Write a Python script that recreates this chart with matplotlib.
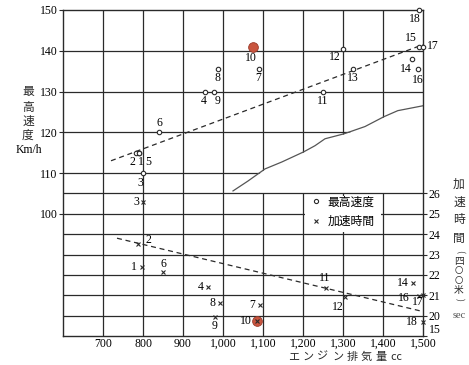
import numpy as np
import matplotlib
matplotlib.use('Agg')
import matplotlib.pyplot as plt
from matplotlib.lines import Line2D
from matplotlib.patches import Rectangle

SERIF = ['Liberation Serif', 'DejaVu Serif']
JP = ['Noto Sans CJK JP', 'DejaVu Sans']
INK = '#2a2a2a'
RED = '#c9553f'

# top speed (km/h) per car no.
speed_no = ['1', '2', '3', '4', '5', '6', '7', '8', '9', '10', '11', '12', '13', '14', '15', '16', '17', '18']
speed_cc = [790, 782, 800, 955, 790, 840, 1090, 987, 977, 1075, 1250, 1300, 1325, 1472, 1490, 1487, 1500, 1490]
speed_kmh = [115, 115, 110, 130, 115, 120, 135.5, 135.5, 130, 141, 130, 140.5, 135.5, 138, 141, 135.5, 141, 150]

# acceleration time over 400 m (sec)
accel_no = ['1', '2', '3', '4', '6', '7', '8', '9', '10', '11', '12', '14', '16', '17', '18']
accel_cc = [797, 787, 800, 962, 850, 1092, 992, 980, 1085, 1257, 1305, 1475, 1490, 1500, 1500]
accel_sec = [22.4, 23.5, 25.6, 21.4, 22.15, 20.5, 20.6, 19.7, 18.7, 21.35, 20.9, 21.6, 20.95, 21.0, 18.4]

# dashed trend lines
speed_fit_cc = [720, 1500]
speed_fit_kmh = [113, 141.5]
accel_fit_cc = [735, 1500]
accel_fit_sec = [23.8, 20.2]

# torn edge of the upper grid
curve_cc = [1025, 1062, 1105, 1147, 1202, 1230, 1255, 1302, 1355, 1402, 1437, 1500]
curve_kmh = [105.6, 108, 111, 112.7, 115.2, 116.7, 118.4, 119.6, 121.4, 123.8, 125.3, 126.5]

x_ticks = [700, 800, 900, 1000, 1100, 1200, 1300, 1400, 1500]
x_labels = ['700', '800', '900', '1,000', '1,100', '1,200', '1,300', '1,400', '1,500']
speed_ticks = [100, 110, 120, 130, 140, 150]
sec_ticks = [15, 20, 21, 22, 23, 24, 25, 26]

# label offsets in pixels (layout only)
speed_off = {'1': (2, -9), '2': (-3, -9), '3': (-3, -10), '4': (-1, -9), '5': (9, -9),
             '6': (0, 9), '7': (-1, -9), '8': (0, -9), '9': (4, -9), '10': (-2, -11),
             '11': (0, -10), '12': (-8, -8), '13': (0, -9), '14': (-6, -10), '15': (-8, 9),
             '16': (0, -11), '17': (10, 1), '18': (-4, -9)}
accel_off = {'1': (-8, 0), '2': (11, 4), '3': (-7, 0), '4': (-7, 0), '6': (0, 8),
             '7': (-8, 0), '8': (-7, 0), '9': (0, -9), '10': (-11, 0), '11': (-1, 10),
             '12': (-7, -10), '14': (-10, 0), '16': (-15, -2), '17': (-5, -7), '18': (-11, 0)}


def fwd(s):
    s = np.asarray(s, dtype=float)
    return np.where(s >= 20, s, 20 - (20 - s) / 5.0)


def inv(t):
    t = np.asarray(t, dtype=float)
    return np.where(t >= 20, t, 20 - (20 - t) * 5.0)


fig = plt.figure(figsize=(4.69, 3.65), dpi=100)
ax = fig.add_axes([63 / 469, 29 / 365, 360 / 469, 326 / 365])
ax.set_xlim(600, 1500)
ax.set_ylim(70, 150)

# grid
for x in x_ticks[:-1]:
    ax.axvline(x, color=INK, lw=0.9, zorder=1)
for y in [75, 80, 85, 90, 95, 100, 110, 120, 130, 140]:
    ax.axhline(y, color=INK, lw=0.9, zorder=1)
ax.fill_between(curve_cc, 105, curve_kmh, color='white', lw=0, zorder=1.5)
ax.axhline(105, color=INK, lw=0.9, zorder=1.6)
ax.plot(curve_cc, curve_kmh, color='#555555', lw=0.9, zorder=1.7)
ax.add_patch(Rectangle((1204, 95.6), 192, 8.8, fc='white', ec='none', zorder=1.8))

for s in ax.spines.values():
    s.set_color(INK)
    s.set_linewidth(1.0)

ax.set_xticks(x_ticks)
ax.set_xticklabels(x_labels, family=SERIF, fontsize=8.5)
ax.tick_params(axis='x', length=0, pad=1.5)
ax.set_yticks(speed_ticks)
ax.set_yticklabels([str(v) for v in speed_ticks], family=SERIF, fontsize=8.5)
ax.tick_params(axis='y', direction='out', length=3, pad=1, color=INK)

# top speed
ax.plot(speed_fit_cc, speed_fit_kmh, color=INK, lw=0.9, dashes=(4, 3), zorder=3)
for no, x, y in zip(speed_no, speed_cc, speed_kmh):
    if no == '10':
        ax.plot(x, y, 'o', ms=7, color=RED, mec='#9a3a2a', mew=0.6, zorder=4)
    else:
        ax.plot(x, y, 'o', ms=3.2, mfc='white', mec=INK, mew=0.8, zorder=4, clip_on=False)
    ax.annotate(no, (x, y), xytext=speed_off[no], textcoords='offset pixels',
                ha='center', va='center', family=SERIF, fontsize=8.5, zorder=5,
                annotation_clip=False)

# acceleration time on the right axis
ax2 = ax.twinx()
ax2.set_yscale('function', functions=(fwd, inv))
ax2.set_ylim(15, 35)
for s in ax2.spines.values():
    s.set_visible(False)
ax2.set_yticks(sec_ticks)
ax2.set_yticklabels([str(v) for v in sec_ticks], family=SERIF, fontsize=8.5)
ax2.tick_params(axis='y', direction='out', length=3, pad=1, color=INK)
ax2.get_yticklabels()[0].set_va('bottom')

ax2.plot(accel_fit_cc, accel_fit_sec, color=INK, lw=0.9, dashes=(4, 3), zorder=3)
for no, x, y in zip(accel_no, accel_cc, accel_sec):
    if no == '10':
        ax2.plot(x, y, 'o', ms=7, color=RED, mec='#9a3a2a', mew=0.6, zorder=4)
    ax2.plot(x, y, 'x', ms=3, color=INK, mew=0.8, zorder=4, clip_on=False)
    ax2.annotate(no, (x, y), xytext=accel_off[no], textcoords='offset pixels',
                 ha='center', va='center', family=SERIF, fontsize=8.5, zorder=5,
                 annotation_clip=False)

# legend in its grid cell
handles = [Line2D([], [], ls='none', marker='o', ms=3, mfc='white', mec=INK, mew=0.8),
           Line2D([], [], ls='none', marker='x', ms=3, color=INK, mew=0.8)]
leg = ax.legend(handles, ['最高速度', '加速時間'], loc='center', bbox_to_anchor=(1300, 100.5),
                bbox_transform=ax.transData, frameon=False, handlelength=0.8,
                handletextpad=0.6, labelspacing=0.55, prop={'family': JP, 'size': 8.5})
leg.set_zorder(6)

# axis titles, set vertically one character at a time
W, H = 469, 365
for ch, py in zip(['最', '高', '速', '度'], [92, 107, 121, 135]):
    fig.text(28 / W, 1 - py / H, ch, family=JP, fontsize=8.5, ha='center', va='center', color=INK)
fig.text(29 / W, 1 - 150 / H, 'Km/h', family=SERIF, fontsize=8.5, ha='center', va='center')

for ch, py in zip(['加', '速', '時', '間'], [184, 202, 220, 238]):
    fig.text(459 / W, 1 - py / H, ch, family=JP, fontsize=8.5, ha='center', va='center', color=INK)
# "(四〇〇米)" set vertically in smaller type
for ch, py, fs in zip(['(', '四', '〇', '〇', '米', ')'], [251, 261, 271, 280, 290, 299],
                      [6.5, 7, 6, 6, 7, 6.5]):
    rot = 270 if ch in '()' else 0
    fig.text(459 / W, 1 - py / H, ch, family=JP, fontsize=fs, ha='center', va='center',
             color=INK, rotation=rot)
fig.text(459 / W, 1 - 316 / H, 'sec', family=SERIF, fontsize=7.5, ha='center', va='center', color='#555555')

xlab = ['エ', 'ン', 'ジ', 'ン', '排', '気', '量', '㏄']
for i, ch in enumerate(xlab):
    fig.text((294 + i * 14.5) / W, 1 - 357 / H, ch, family=JP, fontsize=8, ha='center', va='center', color=INK)

fig.savefig('out.png', dpi=100, facecolor='white')
